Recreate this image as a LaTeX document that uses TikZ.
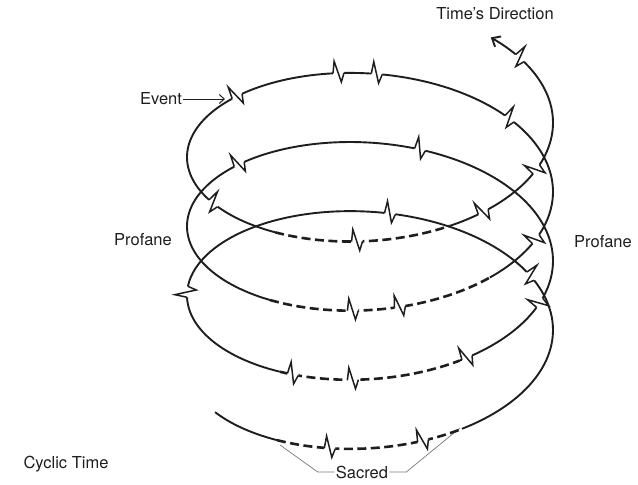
\documentclass[tikz,border=0pt]{standalone}
\usepackage{fontspec}
\setmainfont{TeX Gyre Heros}
\usepackage{xcolor}
\usetikzlibrary{arrows.meta,positioning}
\definecolor{ink}{HTML}{1E1E1E}

% helix in image units (x right, y down)
\newcommand{\hx}[1]{370+183*cos(#1 r)}
\newcommand{\hy}[1]{330-11*(#1)-101*sin(#1 r)}

\begin{document}
\begin{tikzpicture}[
  x=1pt, y=-1pt,
  font=\fontsize{16.5}{20}\selectfont,
  spiral/.style={draw=ink, line width=1.9pt, line join=round},
  sacred/.style={spiral, line width=2.6pt, dash pattern=on 9pt off 4.5pt},
  zig/.style={draw=ink, line width=1.5pt, line join=miter},
  label/.style={text=ink, inner sep=1pt},
  brace/.style={draw=ink!60, line width=0.7pt},
  pointer/.style={draw=ink, line width=1pt, -{Straight Barb[length=5pt,width=9pt]}}
]
\useasboundingbox (0,0) rectangle (638,485);

% labels
\node[label] (time) at (495,14) {Time's Direction};
\node[label] (event) at (161,99) {Event};
\coordinate (evtip) at (225,99);
\draw[pointer] (event.east) -- (evtip);
\node[label] (profL) at (143,240) {Profane};
\node[label] (profR) at (603,242) {Profane};
\node[label] (cyclic) at (66,464) {Cyclic Time};
\node[label] (sacred) at (362,472) {Sacred};
\coordinate (sacL) at (280,445);
\coordinate (sacR) at (460,428);
\draw[brace] (sacred.west) -- ++(-17,0) -- (sacL);
\draw[brace] (sacred.east) -- ++(17,0) -- (sacR);

% spiral, front parts dashed
\foreach \a/\b/\sty in {-2.58/-2.104/spiral, -2.104/-1.044/sacred, -1.044/4.198/spiral,
  4.198/5.227/sacred, 5.227/10.418/spiral, 10.418/11.71/sacred, 11.71/16.734/spiral,
  16.734/17.73/sacred}
  \draw[\sty] plot[domain=\a:\b, samples=150, variable=\t] ({\hx{\t}}, {\hy{\t}});
\draw[spiral, -{Straight Barb[length=7pt,width=12pt]}]
  plot[domain=17.73:19.70, samples=80, variable=\t] ({\hx{\t}}, {\hy{\t}});

% events
\foreach \t in {-1.792,-1.277,0.5,1.461,3.1,4.277,4.619,5.271,5.90,7.577,8.65,
  10.902,11.16,12.13,13.27,14.10,14.31,14.95,16.25,17.208,17.946,18.42,19.46} {
  \pgfmathsetmacro\ph{atan2(11+101*cos(\t r),-183*sin(\t r))}
  \pgfmathsetmacro\ph{\ph>90 ? \ph-180 : (\ph<-90 ? \ph+180 : \ph)}
  \begin{scope}[shift={({\hx{\t}},{\hy{\t}})}, rotate=\ph]
    \draw[white, line width=4.5pt] (-5.5pt,0pt) -- (5.5pt,0pt);
    \draw[zig] (-5.5pt,0pt) -- (-4pt,12pt) -- (2.5pt,-9pt) -- (5.5pt,0pt);
  \end{scope}
}
\end{tikzpicture}
\end{document}
